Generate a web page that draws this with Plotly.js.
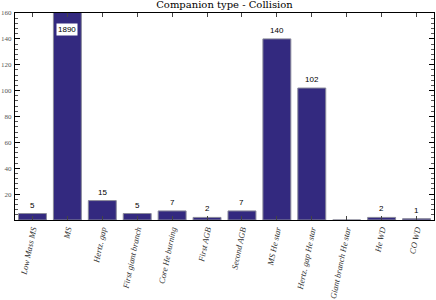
<!DOCTYPE html>
<html>
<head>
<meta charset="utf-8">
<script src="https://cdn.plot.ly/plotly-3.0.1.min.js"></script>
<style>html,body{margin:0;padding:0;background:#fff;}#chart{width:436px;height:300px;}</style>
</head>
<body>
<div id="chart"></div>
<script>
var categories = ["Low Mass MS", "MS", "Hertz. gap", "First giant branch", "Core He burning", "First AGB", "Second AGB", "MS He star", "Hertz. gap He star", "Giant branch He star", "He WD", "CO WD"];
var counts = [5, 1890, 15, 5, 7, 2, 7, 140, 102, 0, 2, 1];
var yMax = 160;

var annotations = [];
for (var i = 0; i < categories.length; i++) {
  if (counts[i] <= 0) continue;
  if (counts[i] > yMax) {
    annotations.push({x: categories[i], y: yMax, xref: 'x', yref: 'y', text: String(counts[i]),
      showarrow: false, yanchor: 'top', yshift: -10, bgcolor: '#ffffff',
      font: {family: 'Liberation Sans, Arial', size: 8, color: '#000'}, borderpad: 1});
  } else {
    annotations.push({x: categories[i], y: counts[i], xref: 'x', yref: 'y', text: String(counts[i]),
      showarrow: false, yanchor: 'bottom', yshift: 2,
      font: {family: 'Liberation Sans, Arial', size: 8, color: '#000'}});
  }
}

var data = [{
  type: 'bar', x: categories, y: counts,
  marker: {color: '#33297f', line: {color: '#8a8a9a', width: 1}},
  hoverinfo: 'none', cliponaxis: true
}];

var layout = {
  width: 436, height: 300,
  margin: {l: 15, r: 2, t: 13, b: 80},
  paper_bgcolor: '#fff', plot_bgcolor: '#fff',
  title: {text: 'Companion type - Collision', font: {family: 'DejaVu Serif, serif', size: 10, color: '#000'},
    xref: 'paper', x: 0.5, xanchor: 'center', yref: 'container', y: 1, yanchor: 'top', pad: {t: 1}},
  bargap: 0.2,
  showlegend: false,
  xaxis: {
    type: 'category', showline: true, linecolor: '#000', linewidth: 1, mirror: 'ticks',
    ticks: 'inside', ticklen: 4, tickcolor: '#444', tickangle: -78,
    tickfont: {family: 'Liberation Serif, serif', size: 8.5, style: 'italic', color: '#333'},
    showgrid: false, zeroline: false, fixedrange: true
  },
  yaxis: {
    range: [0, yMax], showline: true, linecolor: '#000', linewidth: 1, mirror: 'ticks',
    ticks: 'inside', ticklen: 5, tickcolor: '#000',
    tickfont: {family: 'Liberation Serif, serif', size: 7, color: '#555'},
    ticklabelstandoff: 1,
    minor: {dtick: 4, ticks: 'inside', ticklen: 3, tickcolor: '#555'},
    showgrid: false, zeroline: false, fixedrange: true,
    tickvals: [20, 40, 60, 80, 100, 120, 140, 160]
  },
  annotations: annotations
};

Plotly.newPlot('chart', data, layout, {staticPlot: true, displayModeBar: false});
</script>
</body>
</html>
